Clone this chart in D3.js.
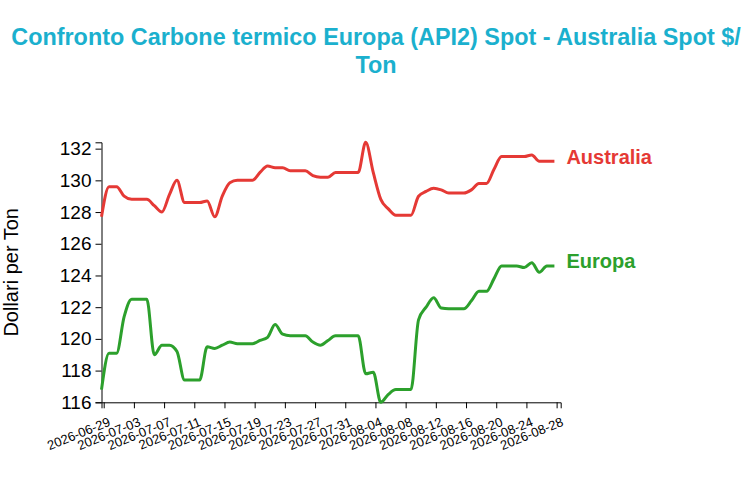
<!DOCTYPE html>
<html>
<head>
<meta charset="utf-8">
<script src="https://cdn.jsdelivr.net/npm/d3@7"></script>
<style>
  body { margin: 0; background: #fff; }
  svg { font-family: "Liberation Sans", Arial, Helvetica, sans-serif; display: block; }
</style>
</head>
<body>
<div id="chart"></div>
<script>
// chart data
const title = "Confronto Carbone termico Europa (API2) Spot - Australia Spot $/Ton";
const yLabel = "Dollari per Ton";

const dates = [
  "2026-06-29","2026-06-30","2026-07-01","2026-07-02","2026-07-03","2026-07-04","2026-07-05","2026-07-06",
  "2026-07-07","2026-07-08","2026-07-09","2026-07-10","2026-07-11","2026-07-12","2026-07-13","2026-07-14",
  "2026-07-15","2026-07-16","2026-07-17","2026-07-18","2026-07-19","2026-07-20","2026-07-21","2026-07-22",
  "2026-07-23","2026-07-24","2026-07-25","2026-07-26","2026-07-27","2026-07-28","2026-07-29","2026-07-30",
  "2026-07-31","2026-08-01","2026-08-02","2026-08-03","2026-08-04","2026-08-05","2026-08-06","2026-08-07",
  "2026-08-08","2026-08-09","2026-08-10","2026-08-11","2026-08-12","2026-08-13","2026-08-14","2026-08-15",
  "2026-08-16","2026-08-17","2026-08-18","2026-08-19","2026-08-20","2026-08-21","2026-08-22","2026-08-23",
  "2026-08-24","2026-08-25","2026-08-26","2026-08-27","2026-08-28"
];

const australia = [
  127.7, 129.6, 129.6, 129.0, 128.8, 128.8, 128.8, 128.4, 128.0, 129.1,
  130.0, 128.6, 128.6, 128.6, 128.7, 127.7, 129.0, 129.85, 130.0, 130.0,
  130.0, 130.5, 130.9, 130.8, 130.8, 130.6, 130.6, 130.6, 130.3, 130.2,
  130.2, 130.5, 130.5, 130.5, 130.5, 132.4, 130.5, 128.8, 128.2, 127.8,
  127.8, 127.8, 129.0, 129.3, 129.5, 129.4, 129.2, 129.2, 129.2, 129.4,
  129.8, 129.8, 130.7, 131.5, 131.5, 131.5, 131.5, 131.6, 131.2, 131.2,
  131.2
];

const europa = [
  116.8, 119.1, 119.1, 121.4, 122.5, 122.5, 122.5, 119.0, 119.6, 119.6,
  119.2, 117.4, 117.4, 117.4, 119.5, 119.4, 119.6, 119.8, 119.7, 119.7,
  119.7, 119.9, 120.1, 120.9, 120.3, 120.2, 120.2, 120.2, 119.8, 119.6,
  119.9, 120.2, 120.2, 120.2, 120.2, 117.8, 117.9, 116.0, 116.5, 116.8,
  116.8, 116.8, 121.2, 122.0, 122.6, 121.95, 121.9, 121.9, 121.9, 122.4,
  123.0, 123.0, 123.8, 124.6, 124.6, 124.6, 124.5, 124.8, 124.2, 124.6,
  124.6
];

const tickDates = [
  "2026-06-29","2026-07-03","2026-07-07","2026-07-11","2026-07-15","2026-07-19",
  "2026-07-23","2026-07-27","2026-07-31","2026-08-04","2026-08-08","2026-08-12",
  "2026-08-16","2026-08-20","2026-08-24","2026-08-28"
];

const seriesNames = ["Australia", "Europa"];
const seriesColors = ["#e53935", "#2ca02c"];

const width = 752, height = 503;
const margin = {top: 142.3, right: 191.3, bottom: 100.7, left: 101.5};

const parseDate = d3.timeParse("%Y-%m-%d");
const formatDate = d3.timeFormat("%Y-%m-%d");

// points sit a few hours before local midnight (source timestamps are UTC)
const pointDate = s => d3.timeHour.offset(parseDate(s), -7);

const series = [australia, europa].map((values, i) => ({
  name: seriesNames[i],
  color: seriesColors[i],
  values: values.map((v, j) => ({date: pointDate(dates[j]), value: v}))
}));

const svg = d3.select("#chart").append("svg")
  .attr("width", width)
  .attr("height", height)
  .attr("viewBox", [0, 0, width, height]);

const x = d3.scaleTime()
  .domain([pointDate(dates[0]), d3.timeHour.offset(pointDate(dates[dates.length - 1]), 20)])
  .range([margin.left, width - margin.right]);

const y = d3.scaleLinear()
  .domain(d3.extent(australia.concat(europa)))
  .range([height - margin.bottom, margin.top]);

// title, wrapped to the page width
const titleText = svg.append("text")
  .attr("x", width / 2)
  .attr("y", 45)
  .attr("text-anchor", "middle")
  .attr("fill", "#1bb0ce")
  .style("font-size", "23.4px")
  .style("font-weight", "bold");

function wrap(text, str, maxWidth, lineHeight) {
  const words = str.split(/(?<=[\s\/])/);
  let line = "";
  let tspan = text.append("tspan").attr("x", width / 2).attr("dy", 0);
  for (const w of words) {
    const test = line + w;
    tspan.text(test.trim());
    if (tspan.node().getComputedTextLength() > maxWidth && line) {
      tspan.text(line.trim());
      line = w;
      tspan = text.append("tspan").attr("x", width / 2).attr("dy", lineHeight).text(w.trim());
    } else {
      line = test;
    }
  }
}
wrap(titleText, title, width - 10, 28);

// axes
const xAxis = svg.append("g")
  .attr("transform", `translate(0,${height - margin.bottom})`)
  .call(d3.axisBottom(x).tickValues(tickDates.map(parseDate)).tickFormat(formatDate));

xAxis.selectAll(".tick text")
  .attr("x", 0)
  .attr("y", 0)
  .attr("dy", 0)
  .attr("text-anchor", "end")
  .attr("transform", "translate(7,23) rotate(-22)")
  .style("font-size", "13px")
  .attr("fill", "#000");

const yAxis = svg.append("g")
  .attr("transform", `translate(${margin.left},0)`)
  .call(d3.axisLeft(y).ticks(10).tickPadding(4));

yAxis.selectAll(".tick text")
  .style("font-size", "19px")
  .attr("fill", "#000");

svg.append("text")
  .attr("transform", `translate(18,${(margin.top + height - margin.bottom) / 2}) rotate(-90)`)
  .attr("text-anchor", "middle")
  .style("font-size", "20px")
  .attr("fill", "#000")
  .text(yLabel);

// lines
const line = d3.line()
  .x(d => x(d.date))
  .y(d => y(d.value))
  .curve(d3.curveMonotoneX);

svg.append("g")
  .selectAll("path")
  .data(series)
  .join("path")
    .attr("fill", "none")
    .attr("stroke", d => d.color)
    .attr("stroke-width", 3)
    .attr("d", d => line(d.values));

// end labels
svg.append("g")
  .selectAll("text")
  .data(series)
  .join("text")
    .attr("x", d => x(d.values[d.values.length - 1].date) + 12)
    .attr("y", d => y(d.values[d.values.length - 1].value))
    .attr("dy", "0.12em")
    .attr("fill", d => d.color)
    .style("font-size", "20px")
    .style("font-weight", "bold")
    .text(d => d.name);
</script>
</body>
</html>
